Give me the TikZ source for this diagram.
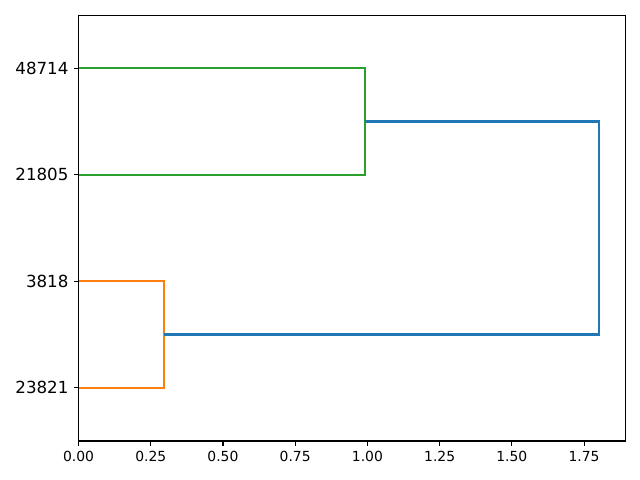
\documentclass[tikz,border=0pt]{standalone}
\usepackage{fontspec}
\setmainfont{DejaVu Sans}
\definecolor{cblue}{HTML}{1F77B4}
\definecolor{corange}{HTML}{FF7F0E}
\definecolor{cgreen}{HTML}{2CA02C}
\begin{document}
\begin{tikzpicture}[x=0.72pt,y=-0.72pt,
  link/.style={line width=1.5pt,line join=miter},
  spine/.style={line width=0.8pt,black},
  tickmark/.style={line width=0.8pt,black},
  xlab/.style={font=\fontsize{10}{12}\selectfont,anchor=north,inner sep=0pt},
  ylab/.style={font=\fontsize{12}{14}\selectfont,anchor=east,inner sep=0pt}]
\useasboundingbox (0,0) rectangle (640,480);
% leaves and merges (pixel coordinates)
\coordinate (l1) at (78.5,68.25);
\coordinate (l2) at (78.5,174.75);
\coordinate (l3) at (78.5,281.25);
\coordinate (l4) at (78.5,387.75);
% green cluster
\draw[link,cgreen] (l1) -- (365,68.25) -- (365,174.75) -- (l2);
% orange cluster
\draw[link,corange] (l3) -- (164,281.25) -- (164,387.75) -- (l4);
% blue
\draw[link,cblue] (365,121.5) -- (599,121.5) -- (599,334.5) -- (164,334.5);
% axes frame
\draw[spine] (78.5,15.5) rectangle (625.5,441);
% x ticks
\foreach \v/\t in {0/0.00,0.25/0.25,0.5/0.50,0.75/0.75,1/1.00,1.25/1.25,1.5/1.50,1.75/1.75}{
  \pgfmathsetmacro{\px}{78.5+288.9*\v}
  \draw[tickmark] (\px,441) -- (\px,445.9);
  \node[xlab] (xt\t) at (\px,450.8) {\t};
}
% y ticks and labels
\foreach \y/\t in {68.25/48714,174.75/21805,281.25/3818,387.75/23821}{
  \draw[tickmark] (78.5,\y) -- (73.6,\y);
  \node[ylab] (yl\t) at (68.7,\y) {\t};
}
\end{tikzpicture}
\end{document}
